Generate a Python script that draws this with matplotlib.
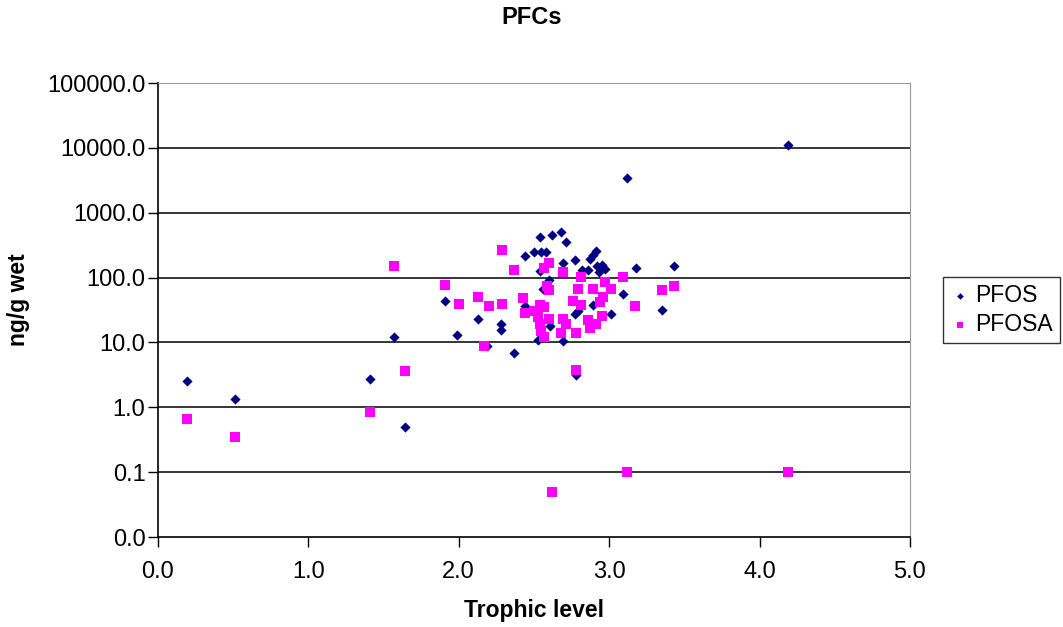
import matplotlib
matplotlib.use('Agg')
import matplotlib.pyplot as plt
from matplotlib.ticker import FixedLocator, FuncFormatter, NullLocator

plt.rcParams['font.family'] = ['Liberation Sans', 'DejaVu Sans']

# PFOS (trophic level, ng/g wet)
pfos_x = [0.19, 0.51, 1.41, 1.57, 1.64, 1.91, 1.99, 2.13, 2.28, 2.28,
          2.19, 2.37, 2.44, 2.44, 2.50, 2.55, 2.58, 2.54, 2.62, 2.68,
          2.71, 2.69, 2.54, 2.60, 2.56, 2.77, 2.87, 2.89, 2.91, 2.82,
          2.86, 2.92, 2.95, 2.97, 2.93, 3.18, 3.43, 3.09, 3.35, 3.01,
          2.89, 2.77, 2.79, 2.61, 2.53, 2.69, 2.78, 3.12, 4.19]
pfos_y = [2.5, 1.33, 2.7, 12.0, 0.5, 44, 13, 23, 19, 15.5,
          8.9, 6.9, 37, 215, 245, 245, 250, 430, 450, 510,
          355, 165, 125, 92, 67, 185, 195, 225, 255, 130,
          133, 150, 155, 136, 124, 140, 150, 55, 32, 27,
          38, 27, 31, 18, 11, 10.7, 3.1, 3450, 11200]

# PFOSA
pfosa_x = [0.19, 0.51, 1.41, 1.64, 1.57, 1.91, 2.00, 2.13, 2.20, 2.29,
           2.17, 2.29, 2.37, 2.43, 2.44, 2.50, 2.54, 2.57, 2.53, 2.54,
           2.55, 2.57, 2.60, 2.69, 2.71, 2.68, 2.78, 2.59, 2.60, 2.57,
           2.60, 2.69, 2.81, 2.79, 2.76, 2.81, 2.89, 2.97, 3.01, 2.96,
           2.94, 2.86, 2.87, 2.91, 2.95, 3.09, 3.17, 3.35, 3.43, 2.78,
           3.12, 4.19, 2.62]
pfosa_y = [0.66, 0.35, 0.85, 3.6, 150, 78, 39, 51, 36, 39,
           8.7, 265, 132, 48, 28, 31, 38, 35, 25, 19,
           15, 12, 23, 23, 19, 14, 14, 73, 65, 143,
           170, 124, 102, 67, 44, 38, 67, 85, 67, 51,
           42, 22, 17, 19, 26, 102, 37, 64, 75, 3.8,
           0.1, 0.1, 0.05]

y_ticks = [0.01, 0.1, 1, 10, 100, 1000, 10000, 100000]
x_ticks = [0.0, 1.0, 2.0, 3.0, 4.0, 5.0]

fig = plt.figure(figsize=(10.63, 6.27), dpi=100)
ax = fig.add_axes([0.1486, 0.1435, 0.7074, 0.7241])

ax.set_yscale('log')
ax.set_ylim(0.01, 100000)
ax.set_xlim(0, 5)

for t in y_ticks[1:-1]:
    ax.axhline(t, color='black', lw=1.1, zorder=1)

ax.scatter(pfos_x, pfos_y, marker='D', s=27, color='#000080', lw=0, zorder=3, label='PFOS')
ax.scatter(pfosa_x, pfosa_y, marker='s', s=42, color='#FF00FF', lw=0, zorder=3, label='PFOSA')

ax.yaxis.set_major_locator(FixedLocator(y_ticks))
ax.yaxis.set_minor_locator(NullLocator())
ax.yaxis.set_major_formatter(FuncFormatter(lambda v, p: f'{v:.1f}'))
ax.set_xticks(x_ticks)
ax.xaxis.set_major_formatter(FuncFormatter(lambda v, p: f'{v:.1f}'))

ax.tick_params(axis='both', direction='out', length=7, width=1.0, labelsize=17, color='black')
ax.tick_params(axis='x', pad=10)
ax.tick_params(axis='y', pad=2)

ax.spines['left'].set_color('black')
ax.spines['bottom'].set_color('black')
ax.spines['left'].set_linewidth(1.2)
ax.spines['bottom'].set_linewidth(1.2)
ax.spines['top'].set_color('#9a9a9a')
ax.spines['right'].set_color('#9a9a9a')

fig.text(0.5, 1 - 18 / 627, 'PFCs', ha='center', va='center', fontsize=17, fontweight='bold')
ax.set_xlabel('Trophic level', fontsize=16.5, fontweight='bold', labelpad=12)
fig.text(19 / 1063, 1 - 300 / 627, 'ng/g wet', ha='center', va='center', rotation=90,
         fontsize=16.5, fontweight='bold')

leg = ax.legend(loc='center left', bbox_to_anchor=(943 / 1063, 1 - 310 / 627),
                bbox_transform=fig.transFigure, frameon=True, fancybox=False,
                fontsize=16.5, handletextpad=0.2, handlelength=0.9, borderpad=0.3,
                labelspacing=0.25, markerscale=0.65, borderaxespad=0)
leg.get_frame().set_edgecolor('black')
leg.get_frame().set_linewidth(1.0)

fig.savefig('out.png', dpi=100)
